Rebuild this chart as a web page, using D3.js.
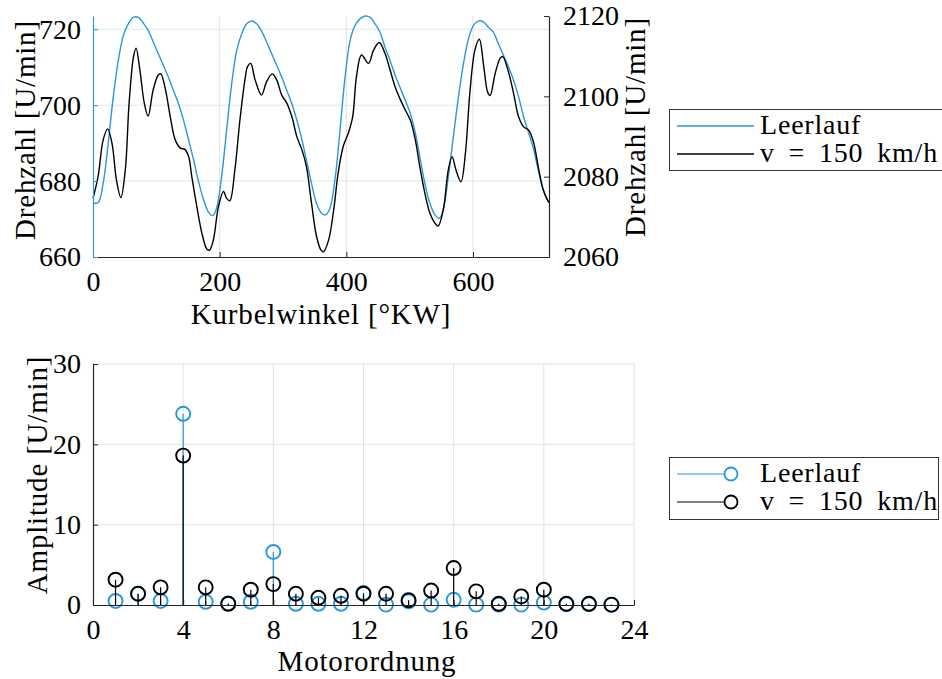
<!DOCTYPE html>
<html>
<head>
<meta charset="utf-8">
<script src="https://cdn.jsdelivr.net/npm/d3@7"></script>
<style>
  body { margin: 0; background: #fff; }
</style>
</head>
<body>
<div id="chart"></div>
<script>
// --- Drehzahl ueber Kurbelwinkel (oben) ---
const leerlaufWinkel = [0, 8, 16, 24, 32, 40, 48, 56, 64, 72, 80, 87, 95, 103, 111, 119, 127, 135, 143, 151, 159, 166, 174, 182, 189, 195, 203, 211, 219, 227, 235, 243, 251, 258, 266, 274, 282, 290, 298, 306, 314, 322, 330, 337, 345, 353, 361, 367, 374, 382, 390, 398, 406, 414, 422, 430, 438, 445, 453, 461, 469, 477, 485, 493, 501, 509, 516, 524, 532, 540, 547, 553, 561, 569, 577, 585, 593, 601, 609, 617, 624, 632, 640, 648, 656, 664, 672, 680, 688, 696, 703, 711, 719, 720];
const leerlaufDrehzahl = [674.3, 674.3, 679.4, 689.9, 702.2, 711.8, 718.4, 721.5, 723.2, 723.1, 721.5, 719.7, 716.7, 713.6, 710.5, 707.4, 703.9, 700.4, 696, 690.8, 685.5, 680.3, 675.4, 671.9, 670.9, 672.8, 681.1, 693.4, 705.7, 714.5, 718.9, 721.5, 722.2, 721.5, 719.6, 716.7, 713.6, 710.5, 707.4, 703.9, 700.4, 696, 690.8, 685.5, 679.4, 674.1, 671.5, 671.1, 672.8, 680.3, 693.4, 707.4, 717.1, 721.1, 722.8, 723.5, 723.1, 721.5, 719.3, 715.3, 711.8, 707.9, 704.6, 701.3, 697.8, 692.6, 686.4, 679.4, 674.1, 671.1, 670.2, 672.4, 681.1, 691.7, 702.2, 711, 717.6, 721.1, 722.2, 721.9, 720.6, 719.3, 716.2, 713.2, 710.1, 706.6, 702.2, 696.9, 692.6, 688.2, 682.9, 677.6, 674.6, 674.4];

const fahrtWinkel = [0, 8, 16, 23, 30, 37, 44, 51, 57, 64, 68, 74, 81, 87, 95, 103, 107, 114, 122, 130, 138, 145, 151, 156, 164, 172, 180, 184, 190, 198, 206, 211, 216, 224, 232, 240, 244, 249, 256, 266, 274, 283, 290, 298, 306, 314, 322, 330, 337, 345, 353, 360, 364, 372, 380, 387, 395, 403, 410, 416, 424, 435, 443, 452, 461, 469, 477, 485, 493, 501, 509, 516, 524, 532, 540, 545, 553, 561, 567, 573, 581, 588, 595, 603, 610, 617, 623, 627, 635, 643, 647, 656, 664, 672, 680, 688, 696, 703, 711, 719, 720];
const fahrtDrehzahl = [2074.6, 2080, 2089.1, 2091.9, 2088.3, 2079.2, 2074.8, 2081.7, 2098.3, 2109.9, 2112, 2106.6, 2098.3, 2095.1, 2101.6, 2105.3, 2105.6, 2102, 2094.9, 2089.1, 2087.1, 2086.8, 2085, 2080, 2072.5, 2065.9, 2061.9, 2061.7, 2064.2, 2072.5, 2076.3, 2074.6, 2074, 2081.7, 2094.1, 2104.2, 2107.4, 2108.2, 2104.1, 2100.3, 2103.6, 2105.6, 2104.1, 2100.3, 2098.3, 2094.9, 2089.9, 2086.6, 2082.5, 2073.4, 2065.1, 2061.7, 2061.3, 2064.2, 2071.7, 2080.8, 2087.5, 2090.8, 2094.9, 2104.9, 2110.3, 2108.2, 2111.5, 2113.4, 2110.7, 2106.6, 2102.4, 2099.3, 2096.6, 2094.1, 2089.1, 2082.5, 2075.9, 2070.9, 2068.4, 2067.7, 2071.7, 2081.7, 2085, 2081.7, 2078.7, 2085.8, 2100.8, 2111.5, 2114.2, 2107.4, 2101.1, 2100.2, 2105.7, 2109.5, 2109.9, 2106.1, 2100.8, 2094.9, 2092.4, 2091.6, 2088.3, 2082.5, 2076.7, 2073.8, 2073.6];

// --- Amplitudenspektrum (unten) ---
const ordnungen = [1, 2, 3, 4, 5, 6, 7, 8, 9, 10, 11, 12, 13, 14, 15, 16, 17, 18, 19, 20, 21, 22, 23];
const ampLeerlauf = [0.5, 1.4, 0.5, 23.8, 0.4, 0.2, 0.4, 6.6, 0.15, 0.15, 0.15, 1.5, 0.05, 0.45, 0.05, 0.65, 0.05, 0.05, 0.05, 0.3, 0.1, 0.1, 0.02];
const ampFahrt = [3.15, 1.4, 2.2, 18.6, 2.2, 0.15, 1.9, 2.6, 1.4, 0.9, 1.15, 1.4, 1.4, 0.6, 1.8, 4.6, 1.7, 0.15, 1.07, 1.9, 0.15, 0.15, 0.05];

const serienNamen = ["Leerlauf", "v = 150 km/h"];
const winkelTicks = [0, 200, 400, 600];
const drehzahlLinksTicks = [660, 680, 700, 720];
const drehzahlRechtsTicks = [2060, 2080, 2100, 2120];
const ordnungTicks = [0, 4, 8, 12, 16, 20, 24];
const amplitudeTicks = [0, 10, 20, 30];

const blau = "#2a97da";
const schwarz = "#000000";
const fontSize = 28;
const schrift = "'Liberation Serif', 'DejaVu Serif', serif";

const svg = d3.select("#chart").append("svg")
    .attr("width", 942)
    .attr("height", 679);

// text helper so every label gets the same serif font
function label(sel, size) {
    return sel.style("font-family", schrift)
        .style("font-size", (size || fontSize) + "px")
        .attr("fill", "#000");
}
// axis titles are a bit wider in the original (latex font)
function title(sel) {
    return label(sel, 29).style("letter-spacing", "0.8px");
}
function legendText(sel) {
    return label(sel, 28).style("letter-spacing", "0.8px").style("word-spacing", "6px");
}

// style an axis like matlab: inward ticks, no outer ticks
function styleAxis(g, color) {
    g.attr("font-family", null).attr("font-size", null);
    g.selectAll(".domain").attr("stroke", color).attr("stroke-width", 1.2);
    g.selectAll(".tick line").attr("stroke", color).attr("stroke-width", 1);
    label(g.selectAll(".tick text"));
}

function drawTop() {
    const left = 93, right = 549, top = 16, bottom = 257;
    const x = d3.scaleLinear().domain([0, 720]).range([left, right]);
    const yL = d3.scaleLinear().domain([660, 723.5]).range([bottom, top]);
    const yR = d3.scaleLinear().domain([2060, 2120]).range([bottom, top]);

    // grid
    const grid = svg.append("g");
    grid.selectAll(".vg").data(winkelTicks.slice(1)).enter().append("line")
        .attr("x1", d => x(d)).attr("x2", d => x(d))
        .attr("y1", top).attr("y2", bottom)
        .attr("stroke", "#e2e2e2").attr("stroke-width", 1);
    grid.selectAll(".hg").data(drehzahlLinksTicks.slice(1)).enter().append("line")
        .attr("x1", left).attr("x2", right)
        .attr("y1", d => yL(d)).attr("y2", d => yL(d))
        .attr("stroke", "#d9e7f3").attr("stroke-width", 1);

    const lineL = d3.line()
        .x((d, i) => x(leerlaufWinkel[i]))
        .y(d => yL(d))
        .curve(d3.curveCatmullRom.alpha(0.5));
    const lineR = d3.line()
        .x((d, i) => x(fahrtWinkel[i]))
        .y(d => yR(d))
        .curve(d3.curveCatmullRom.alpha(0.5));

    svg.append("path").datum(leerlaufDrehzahl)
        .attr("d", lineL).attr("fill", "none")
        .attr("stroke", blau).attr("stroke-width", 1.4);
    svg.append("path").datum(fahrtDrehzahl)
        .attr("d", lineR).attr("fill", "none")
        .attr("stroke", schwarz).attr("stroke-width", 1.4);

    // axes
    const gx = svg.append("g")
        .attr("transform", "translate(0," + bottom + ")")
        .call(d3.axisBottom(x).tickValues(winkelTicks).tickSizeInner(-5).tickSizeOuter(0).tickPadding(14));
    styleAxis(gx, "#262626");

    const gl = svg.append("g")
        .attr("transform", "translate(" + left + ",0)")
        .call(d3.axisLeft(yL).tickValues(drehzahlLinksTicks).tickSizeInner(-5).tickSizeOuter(0).tickPadding(12));
    styleAxis(gl, blau);

    const gr = svg.append("g")
        .attr("transform", "translate(" + right + ",0)")
        .call(d3.axisRight(yR).tickValues(drehzahlRechtsTicks).tickFormat(d3.format("d"))
            .tickSizeInner(-5).tickSizeOuter(0).tickPadding(14));
    styleAxis(gr, "#262626");

    // labels
    title(svg.append("text"))
        .attr("transform", "translate(35,130) rotate(-90)")
        .attr("text-anchor", "middle")
        .text("Drehzahl [U/min]");
    title(svg.append("text"))
        .attr("transform", "translate(645,127) rotate(-90)")
        .attr("text-anchor", "middle")
        .text("Drehzahl [U/min]");
    title(svg.append("text"))
        .attr("x", (left + right) / 2).attr("y", 324)
        .attr("text-anchor", "middle")
        .text("Kurbelwinkel [°KW]");

    // legend
    const lg = svg.append("g");
    lg.append("rect")
        .attr("x", 669.5).attr("y", 109.5).attr("width", 280).attr("height", 61)
        .attr("fill", "#fff").attr("stroke", "#333").attr("stroke-width", 1);
    [blau, schwarz].forEach((c, i) => {
        const yy = 126 + i * 28;
        lg.append("line").attr("x1", 677).attr("x2", 754).attr("y1", yy).attr("y2", yy)
            .attr("stroke", c).attr("stroke-width", 1.4);
        legendText(lg.append("text")).attr("x", 760).attr("y", yy + 8).text(serienNamen[i]);
    });
}

function drawBottom() {
    const left = 93, right = 634, top = 364, bottom = 605;
    const x = d3.scaleLinear().domain([0, 24]).range([left, right]);
    const y = d3.scaleLinear().domain([0, 30]).range([bottom, top]);

    const grid = svg.append("g");
    grid.selectAll(".vg").data(ordnungTicks.slice(1)).enter().append("line")
        .attr("x1", d => x(d)).attr("x2", d => x(d))
        .attr("y1", top).attr("y2", bottom)
        .attr("stroke", "#e2e2e2").attr("stroke-width", 1);
    grid.selectAll(".hg").data(amplitudeTicks.slice(1)).enter().append("line")
        .attr("x1", left).attr("x2", right)
        .attr("y1", d => y(d)).attr("y2", d => y(d))
        .attr("stroke", "#e2e2e2").attr("stroke-width", 1);

    const reihen = [
        { werte: ampLeerlauf, farbe: blau },
        { werte: ampFahrt, farbe: schwarz }
    ];
    reihen.forEach(r => {
        const g = svg.append("g");
        g.selectAll("line").data(r.werte).enter().append("line")
            .attr("x1", (d, i) => x(ordnungen[i])).attr("x2", (d, i) => x(ordnungen[i]))
            .attr("y1", y(0)).attr("y2", d => y(d))
            .attr("stroke", r.farbe).attr("stroke-width", 1.2);
        g.selectAll("circle").data(r.werte).enter().append("circle")
            .attr("cx", (d, i) => x(ordnungen[i])).attr("cy", d => y(d))
            .attr("r", 7)
            .attr("fill", "none").attr("stroke", r.farbe).attr("stroke-width", 1.9);
    });

    const gx = svg.append("g")
        .attr("transform", "translate(0," + bottom + ")")
        .call(d3.axisBottom(x).tickValues(ordnungTicks).tickSizeInner(-5).tickSizeOuter(0).tickPadding(14));
    styleAxis(gx, "#262626");

    const gy = svg.append("g")
        .attr("transform", "translate(" + left + ",0)")
        .call(d3.axisLeft(y).tickValues(amplitudeTicks).tickSizeInner(-5).tickSizeOuter(0).tickPadding(12));
    styleAxis(gy, "#262626");

    title(svg.append("text"))
        .attr("transform", "translate(47,475) rotate(-90)")
        .attr("text-anchor", "middle")
        .text("Amplitude [U/min]");
    title(svg.append("text"))
        .attr("x", 367).attr("y", 671)
        .attr("text-anchor", "middle")
        .text("Motorordnung");

    const lg = svg.append("g");
    lg.append("rect")
        .attr("x", 669.5).attr("y", 457.5).attr("width", 269).attr("height", 62)
        .attr("fill", "#fff").attr("stroke", "#333").attr("stroke-width", 1);
    [blau, schwarz].forEach((c, i) => {
        const yy = 474 + i * 28;
        lg.append("line").attr("x1", 677).attr("x2", 731).attr("y1", yy).attr("y2", yy)
            .attr("stroke", c).attr("stroke-width", 1.2);
        lg.append("circle").attr("cx", 731).attr("cy", yy).attr("r", 6.5)
            .attr("fill", "#fff").attr("stroke", c).attr("stroke-width", 1.8);
        legendText(lg.append("text")).attr("x", 760).attr("y", yy + 8).text(serienNamen[i]);
    });
}

drawTop();
drawBottom();
</script>
</body>
</html>
